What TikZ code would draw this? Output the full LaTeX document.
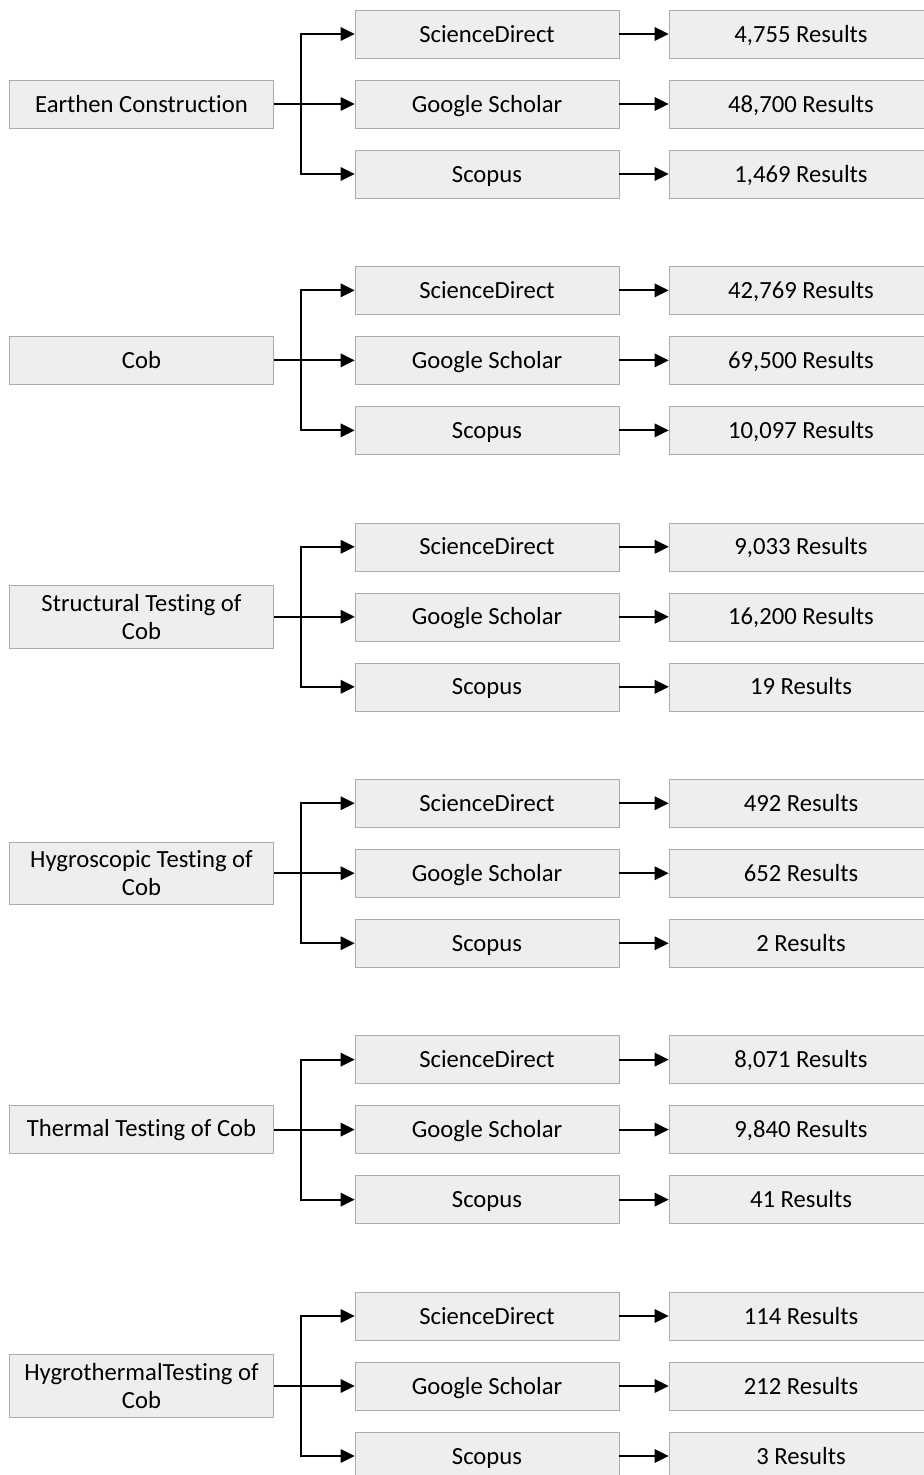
\documentclass[tikz,border=0pt]{standalone}
\usepackage{fontspec}
\setmainfont{Carlito}[Ligatures=NoCommon]
\usetikzlibrary{positioning,arrows.meta}

\tikzset{
    box/.style={draw=gray!65, fill=gray!13, minimum width=198pt, minimum height=36pt, inner sep=0pt, text height=15pt, text depth=3pt, align=center, font=\fontsize{18.5}{21}\selectfont},
    termbox/.style={box, text height=, text depth=, inner ysep=6.5pt},
    link/.style={-{Triangle[length=10.5pt,width=10pt]}, line width=1.5pt}
}

\begin{document}
\begin{tikzpicture}[x=0.75pt, y=-0.75pt]
    \useasboundingbox (0,0) rectangle (924,1475);
    \clip (0,0) rectangle (924,1475);
    \foreach \i/\term/\rsd/\rgs/\rsc in {
        0/{Earthen Construction}/{4,755}/{48,700}/{1,469},
        1/{Cob}/{42,769}/{69,500}/{10,097},
        2/{Structural Testing of\\Cob}/{9,033}/{16,200}/{19},
        3/{Hygroscopic Testing of\\Cob}/{492}/{652}/{2},
        4/{Thermal Testing of Cob}/{8,071}/{9,840}/{41},
        5/{HygrothermalTesting of\\Cob}/{114}/{212}/{3}} {
        % search term and the three databases
        \node [termbox] (term\i) at (141.5, 104+256.4*\i) {\term};
        \node [box] (sd\i) at (487, 34+256.4*\i) {ScienceDirect};
        \node [box] (gs\i) at (487, 104+256.4*\i) {Google Scholar};
        \node [box] (sc\i) at (487, 174+256.4*\i) {Scopus};
        \node [box] (nsd\i) at (801, 34+256.4*\i) {\rsd{} Results};
        \node [box] (ngs\i) at (801, 104+256.4*\i) {\rgs{} Results};
        \node [box] (nsc\i) at (801, 174+256.4*\i) {\rsc{} Results};
        \coordinate (split\i) at (301, 104+256.4*\i);

        \draw [link] (term\i.east) -- (gs\i.west);
        \draw [link] (split\i) |- (sd\i.west);
        \draw [link] (split\i) |- (sc\i.west);
        \draw [link] (sd\i.east) -- (nsd\i.west);
        \draw [link] (gs\i.east) -- (ngs\i.west);
        \draw [link] (sc\i.east) -- (nsc\i.west);
    }
\end{tikzpicture}
\end{document}
